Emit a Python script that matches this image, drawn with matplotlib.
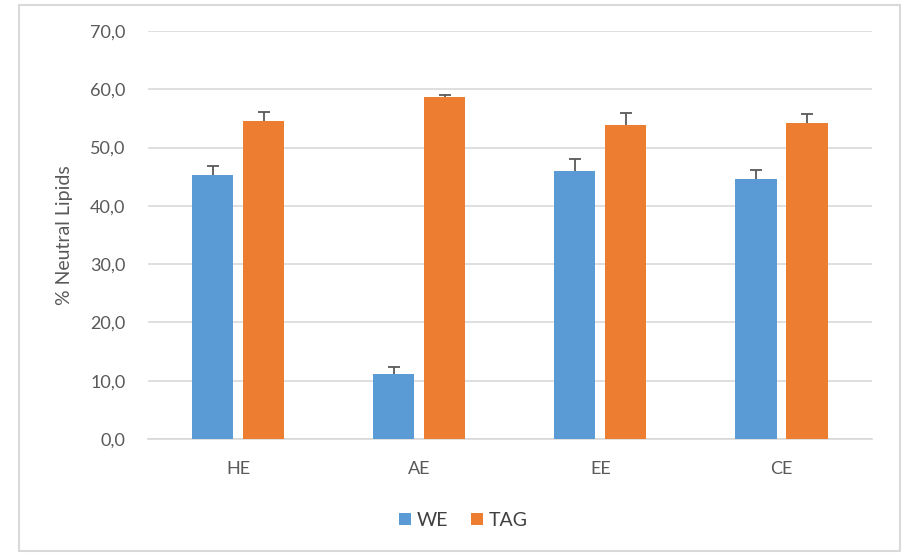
import numpy as np
import matplotlib.pyplot as plt
from matplotlib.patches import Rectangle
from matplotlib.ticker import FuncFormatter

categories = ['HE', 'AE', 'EE', 'CE']
we_values = [45.3, 11.1, 46.0, 44.6]
we_err = [1.5, 1.2, 2.1, 1.5]
tag_values = [54.5, 58.7, 53.9, 54.2]
tag_err = [1.6, 0.3, 2.1, 1.5]

plt.rcParams['font.family'] = ['Lato', 'DejaVu Sans']

fig = plt.figure(figsize=(9.06, 5.53), dpi=100)
ax = fig.add_axes([0.163, 0.206, 0.7995, 0.738])

# chart frame like the spreadsheet export
fig.patches.append(Rectangle((19 / 906, 2 / 553), 881 / 906, 546 / 553,
                             transform=fig.transFigure, fill=False,
                             edgecolor='#d9d9d9', linewidth=1.5))

x = np.arange(len(categories))
w = 0.227
off = 0.141
ax.bar(x - off, we_values, w, color='#5B9BD5', label='WE', zorder=3)
ax.bar(x + off, tag_values, w, color='#ED7D31', label='TAG', zorder=3)
# error bars sit behind the bars so only the upper half shows
ax.errorbar(x - off, we_values, yerr=we_err, fmt='none', ecolor='#595959',
            elinewidth=1.3, capsize=4.5, capthick=1.3, zorder=2)
ax.errorbar(x + off, tag_values, yerr=tag_err, fmt='none', ecolor='#595959',
            elinewidth=1.3, capsize=4.5, capthick=1.3, zorder=2)

ax.set_xlim(-0.5, 3.5)
ax.set_ylim(0, 70)
ax.set_yticks(np.arange(0, 71, 10))
ax.yaxis.set_major_formatter(FuncFormatter(lambda v, p: f'{v:.1f}'.replace('.', ',')))
ax.set_xticks(x)
ax.set_xticklabels(categories)
ax.grid(axis='y', color='#d9d9d9', linewidth=1.2, zorder=0)
for s in ['top', 'right', 'left']:
    ax.spines[s].set_visible(False)
ax.spines['bottom'].set_color('#d9d9d9')
ax.spines['bottom'].set_linewidth(1.2)
ax.tick_params(axis='y', length=0, labelsize=13, colors='#595959', pad=16)
ax.tick_params(axis='x', length=0, labelsize=13, colors='#595959', pad=16)
ax.set_ylabel('% Neutral Lipids', fontsize=14, color='#595959', labelpad=12)

ax.legend(loc='upper center', bbox_to_anchor=(0.436, -0.135), ncol=2, frameon=False,
          fontsize=14, labelcolor='#404040', handlelength=0.6, handleheight=0.6,
          handletextpad=0.3, columnspacing=1.2)

fig.savefig('out.png', dpi=100, facecolor='white')
